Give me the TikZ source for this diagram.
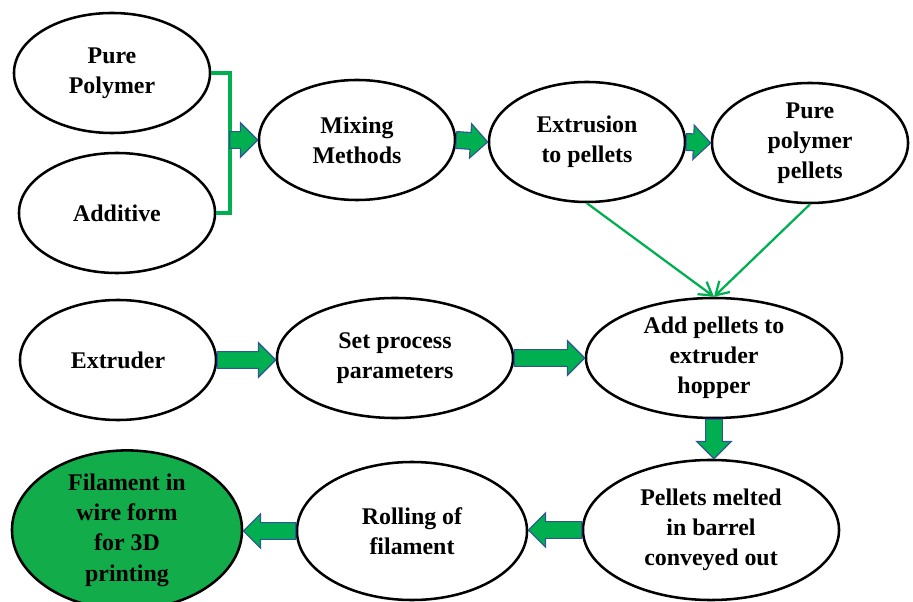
\documentclass[tikz,border=0pt]{standalone}
\usepackage{fontspec}
\setmainfont{Liberation Serif}
\usepackage{tikz}
\usetikzlibrary{arrows.meta,calc,shapes.geometric}
\definecolor{flowgreen}{RGB}{0,176,80}
\definecolor{flowblue}{RGB}{47,85,151}
\definecolor{fillgreen}{RGB}{18,172,75}

% block arrow from #1 to #2
\newcommand{\fatarrow}[2]{%
\path (#1) coordinate (fa-s) (#2) coordinate (fa-e);
\path ($(fa-e)!0.43cm!(fa-s)$) coordinate (fa-h);
\filldraw[fatarrow] ($(fa-s)!0.21cm!90:(fa-e)$) -- ($(fa-h)!0.21cm!90:(fa-e)$)
 -- ($(fa-h)!0.43cm!90:(fa-e)$) -- (fa-e) -- ($(fa-h)!0.43cm!-90:(fa-e)$)
 -- ($(fa-h)!0.21cm!-90:(fa-e)$) -- ($(fa-s)!0.21cm!-90:(fa-e)$) -- cycle;}

\begin{document}
\begin{tikzpicture}[x=0.025cm,y=-0.025cm,
oval/.style={ellipse,draw=black,line width=1.8pt,fill=white,align=center,inner sep=0pt,
 font=\fontsize{17}{21.5}\selectfont\bfseries,minimum width=4.9cm,minimum height=3cm},
fatarrow/.style={fill=flowgreen,draw=flowblue,line width=0.8pt,line join=miter},
thinarrow/.style={draw=flowgreen,line width=1.6pt,-{Straight Barb[length=9pt,width=11pt,line width=1.6pt]}}]
\useasboundingbox (0,0) rectangle (913,602);

\node[oval] (pure) at (112,73) {Pure\\Polymer};
\node[oval] (addit) at (117,213) {Additive};
\node[oval] (mix) at (357,140) {Mixing\\Methods};
\node[oval] (extru) at (587,142) {Extrusion\\to pellets};
\node[oval] (ppell) at (810,143) {Pure\\polymer\\pellets};

\node[oval] (extruder) at (118,360) {Extruder};
\node[oval,minimum width=5.9cm] (setp) at (395,358) {Set process\\parameters};
\node[oval,minimum width=6.4cm] (hopper) at (714,358) {Add pellets to\\extruder\\hopper};

\node[oval,minimum width=6.4cm,minimum height=3.5cm] (melt) at (711,530) {Pellets melted\\in barrel\\conveyed out};
\node[oval,minimum width=5.75cm,minimum height=3.45cm] (roll) at (412,531) {Rolling of\\filament};
\node[oval,fill=fillgreen,minimum width=5.75cm,minimum height=3.5cm] (film) at (127,530) {Filament in\\wire form\\for 3D\\printing};

% bracket joining the two inputs
\coordinate (join) at ($(pure.east)!0.5!(addit.east)+(16,0)$);
\draw[flowgreen,line width=3pt] (pure.east) -| (join) |- (addit.east);
\coordinate (joinmid) at (join |- mix.west);

\fatarrow{joinmid}{mix.west}
\fatarrow{mix.east}{extru.west}
\fatarrow{extru.east}{ppell.west}
\draw[thinarrow] (extru.south) -- (hopper.north);
\draw[thinarrow] (ppell.south) -- (hopper.north);
\fatarrow{extruder.east}{extruder.east -| setp.west}
\fatarrow{setp.east}{hopper.west}
\fatarrow{hopper.south}{hopper.south |- melt.north}
\fatarrow{melt.west}{melt.west -| roll.east}
\fatarrow{roll.west}{roll.west -| film.east}
\end{tikzpicture}
\end{document}
